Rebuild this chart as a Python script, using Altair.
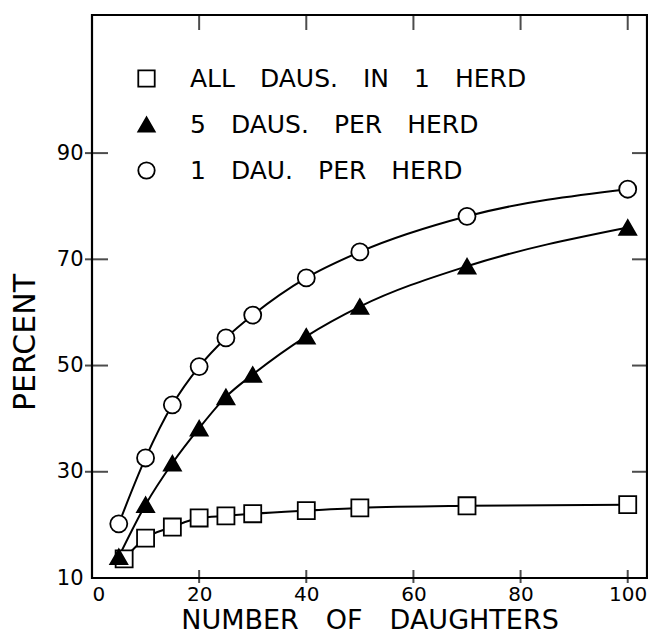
import altair as alt
import pandas as pd

# ---- data ----
N_DAUGHTERS = [5, 10, 15, 20, 25, 30, 40, 50, 70, 100]
N_ALL_IN_ONE = [6, 10, 15, 20, 25, 30, 40, 50, 70, 100]
PCT_ALL_IN_ONE = [13.6, 17.5, 19.6, 21.3, 21.7, 22.1, 22.7, 23.2, 23.6, 23.8]
PCT_FIVE_PER_HERD = [14.0, 23.8, 31.6, 38.2, 44.1, 48.3, 55.5, 61.1, 68.7, 76.0]
PCT_ONE_PER_HERD = [20.2, 32.6, 42.6, 49.8, 55.2, 59.5, 66.5, 71.4, 78.1, 83.2]
SERIES = ["ALL DAUS. IN 1 HERD", "5 DAUS. PER HERD", "1 DAU. PER HERD"]
X_LABELS = [0, 20, 40, 60, 80, 100]
Y_LABELS = [10, 30, 50, 70, 90]
X_TICKS = [20, 40, 60, 80, 100]
Y_TICKS = [30, 50, 70, 90]

EM = "\u2003"  # wide word gap, as in the hand lettering

rows = []
for n, p in zip(N_ALL_IN_ONE, PCT_ALL_IN_ONE):
    rows.append({"n": n, "p": p, "series": SERIES[0]})
for n, p in zip(N_DAUGHTERS, PCT_FIVE_PER_HERD):
    rows.append({"n": n, "p": p, "series": SERIES[1]})
for n, p in zip(N_DAUGHTERS, PCT_ONE_PER_HERD):
    rows.append({"n": n, "p": p, "series": SERIES[2]})
df = pd.DataFrame(rows)

FONT = "DejaVu Sans"
xscale = alt.Scale(domain=[0, 103.6], nice=False, zero=False)
yscale = alt.Scale(domain=[10, 116], nice=False, zero=False)

x_axis = alt.Axis(values=X_LABELS, title=EM.join(["NUMBER", "OF", "DAUGHTERS"]),
                  ticks=False, domain=False,
                  grid=False, labelFontSize=20, labelPadding=6, labelColor="black",
                  titleFontSize=27, titleFontWeight="normal", titleColor="black",
                  titleBaseline="alphabetic", titleY=50, labelFont=FONT, titleFont=FONT)
y_axis = alt.Axis(values=Y_LABELS, title="PERCENT", ticks=False, domain=False,
                  grid=False, labelFontSize=21, labelPadding=9, labelColor="black",
                  titleFontSize=30, titleFontWeight="normal", titleColor="black",
                  titleAngle=270, titleAlign="center", titleBaseline="middle",
                  titleX=-67, titleY=327, labelFont=FONT, titleFont=FONT)

X = alt.X("n:Q", scale=xscale, axis=x_axis)
Y = alt.Y("p:Q", scale=yscale, axis=y_axis)

legend = alt.Legend(orient="none", legendX=42, legendY=51, title=None,
                    labelFontSize=25, labelFont=FONT, labelColor="black", labelLimit=600,
                    labelExpr="replace(datum.label, regexp(' ', 'g'), '" + EM + "')",
                    symbolSize=270, symbolStrokeWidth=1.8, symbolStrokeColor="black",
                    labelOffset=31, rowPadding=20, padding=0)

lines = alt.Chart(df).mark_line(interpolate="monotone", color="black", strokeWidth=2).encode(
    x=X, y=Y, detail="series:N"
)
points = alt.Chart(df).mark_point(filled=True, size=290, strokeWidth=1.8, opacity=1).encode(
    x=X, y=Y,
    shape=alt.Shape("series:N", scale=alt.Scale(domain=SERIES,
                                                range=["square", "triangle-up", "circle"]),
                    legend=legend),
    fill=alt.Fill("series:N", scale=alt.Scale(domain=SERIES, range=["white", "black", "white"]),
                  legend=legend),
    stroke=alt.Stroke("series:N", scale=alt.Scale(domain=SERIES, range=["black", "black", "black"]),
                      legend=legend),
)

xt = pd.DataFrame({"n": X_TICKS})
yt = pd.DataFrame({"p": Y_TICKS})
XN = alt.X("n:Q", scale=xscale)
YN = alt.Y("p:Q", scale=yscale)

bottom_ticks = alt.Chart(xt).mark_tick(orient="vertical", size=13, thickness=2, color="black").encode(
    x=XN, y=alt.value(561.5))
top_ticks = alt.Chart(xt).mark_tick(orient="vertical", size=15, thickness=2, color="black").encode(
    x=XN, y=alt.value(7.5))
left_ticks = alt.Chart(yt).mark_tick(orient="horizontal", size=23, thickness=2, color="black").encode(
    y=YN, x=alt.value(4.5))
right_ticks = alt.Chart(yt).mark_tick(orient="horizontal", size=15, thickness=2, color="black").encode(
    y=YN, x=alt.value(547.5))

chart = alt.layer(lines, points, bottom_ticks, top_ticks, left_ticks, right_ticks).properties(
    width=555, height=563,
    autosize=alt.AutoSizeParams(type="none"),
    padding={"left": 84, "top": 7, "right": 1, "bottom": 57},
).configure(font=FONT).configure_view(stroke="black", strokeWidth=2.2)

chart.save("out.html", embed_options={"renderer": "svg", "actions": False})
